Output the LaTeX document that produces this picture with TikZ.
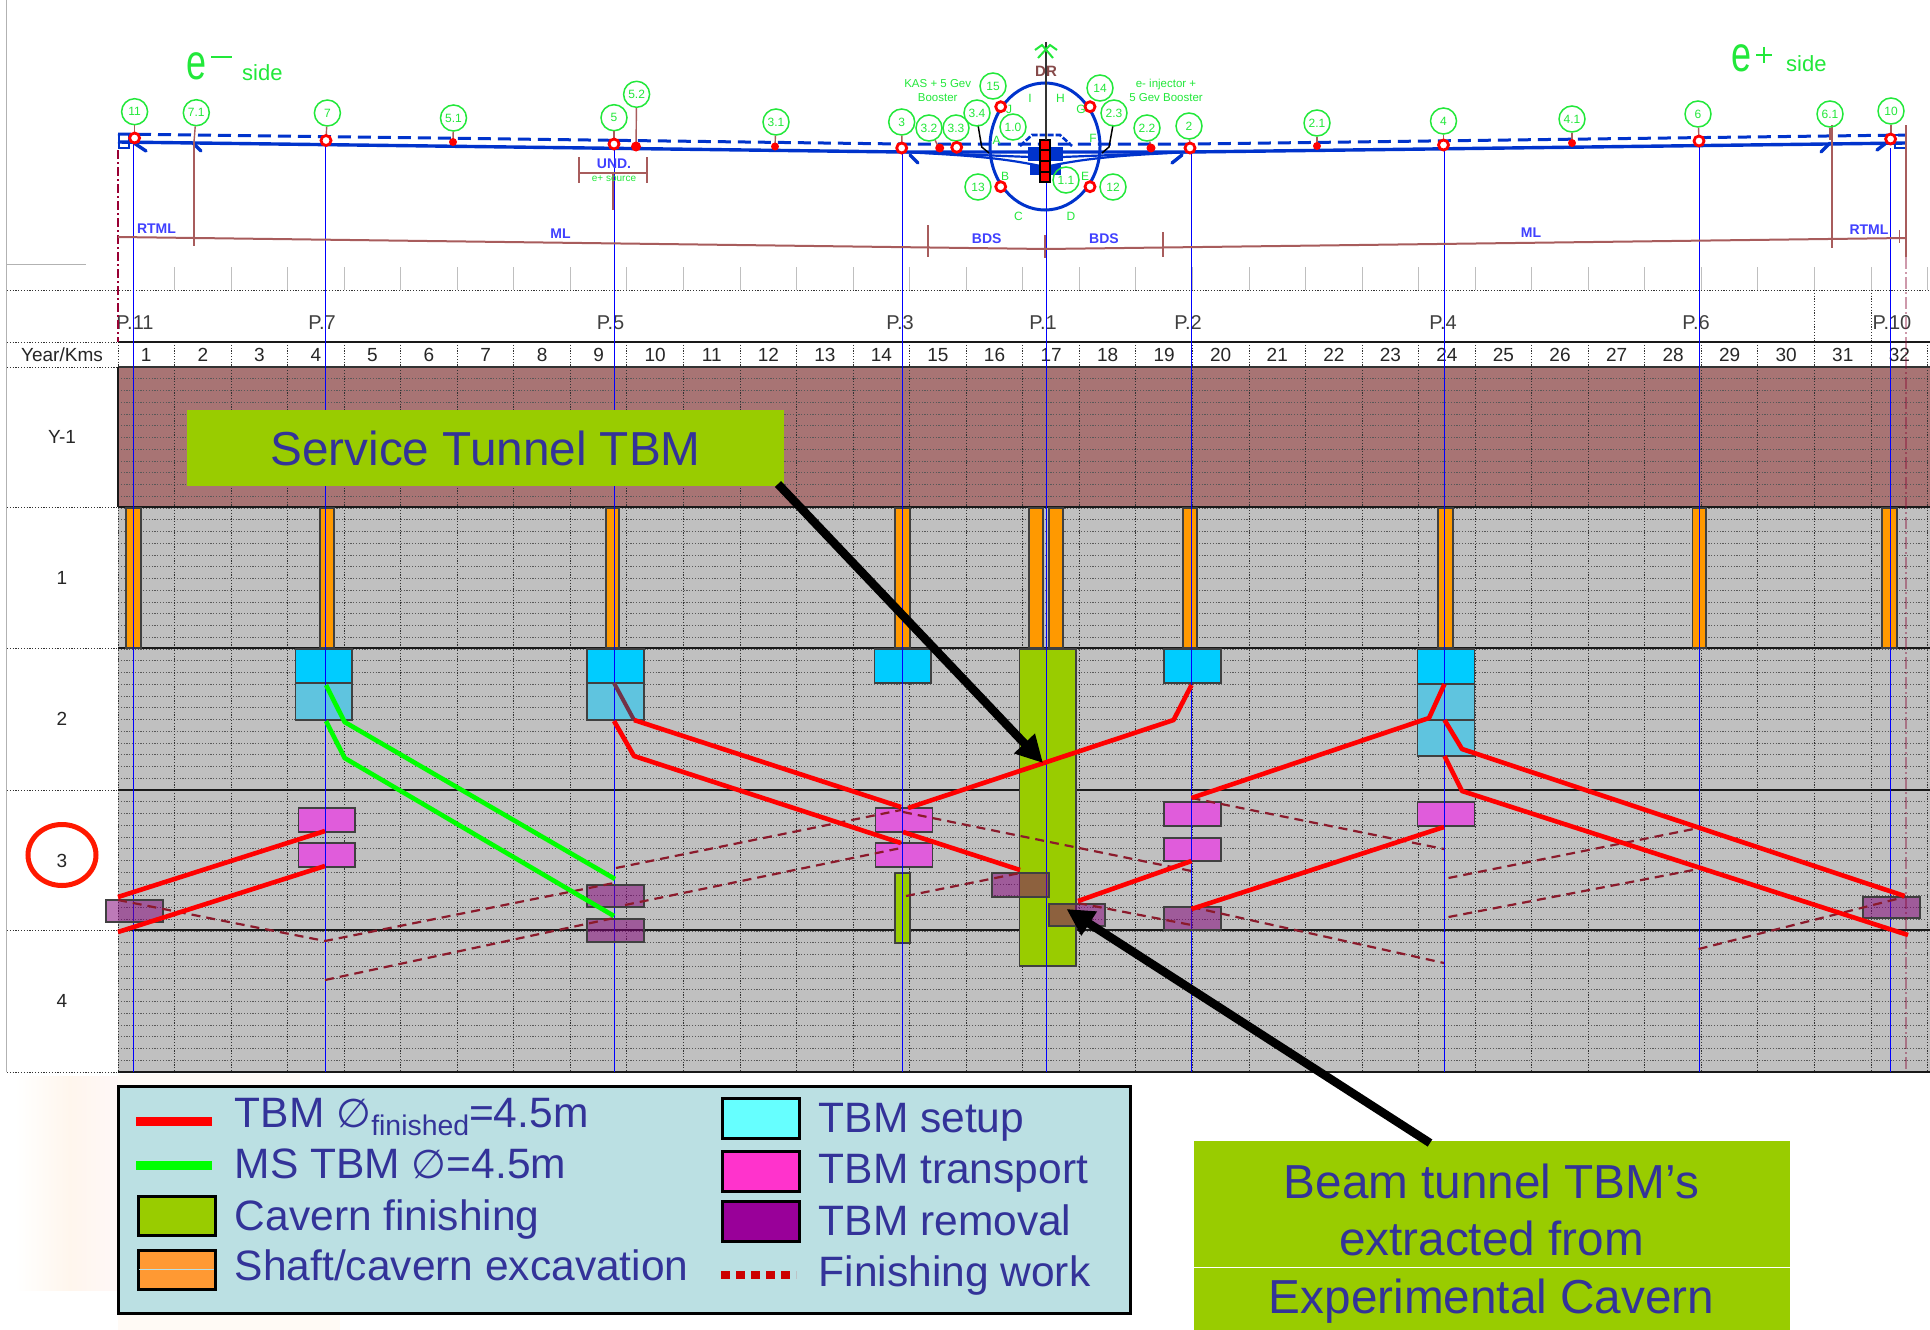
\documentclass[tikz,border=0pt]{standalone}
\usepackage{fontspec}
\setmainfont{Liberation Sans}
\newfontfamily\symfont{DejaVu Sans}
\usetikzlibrary{arrows.meta}
\definecolor{gridgray}{HTML}{C0C0C0}
\definecolor{bandbrown}{HTML}{A87474}
\definecolor{txtblue}{HTML}{333399}
\definecolor{limeg}{HTML}{99CC00}
\definecolor{orangeb}{HTML}{FF9900}
\definecolor{cyana}{HTML}{00CCFF}
\definecolor{cyanb}{HTML}{5FC4DF}
\definecolor{pinkb}{HTML}{E05CDB}
\definecolor{purpb}{RGB}{130,0,120}
\definecolor{beamblue}{HTML}{0033CC}
\definecolor{labgreen}{HTML}{22E83A}
\definecolor{dimred}{HTML}{A85C5C}
\definecolor{finish}{HTML}{8B1A2B}
\definecolor{legbg}{HTML}{BBE0E3}
\definecolor{legcyan}{HTML}{66FFFF}
\definecolor{legorange}{HTML}{FF9933}
\definecolor{legpink}{HTML}{FF33CC}
\definecolor{legpurple}{HTML}{990099}
\definecolor{legred}{HTML}{CC0000}
\newcommand{\fs}[1]{\fontsize{#1}{#1}\selectfont}
\tikzset{
  dotline/.style={draw=black!80,line width=1pt,dash pattern=on 1.2pt off 1.6pt},
  dotlinelight/.style={draw=black!65,line width=1pt,dash pattern=on 1.2pt off 1.6pt},
  rowline/.style={draw=black!90,line width=2.6pt},
  boxline/.style={draw=black!75,line width=1.5pt},
  shaftbar/.style={boxline,fill=orangeb},
  setupa/.style={boxline,fill=cyana},
  setupb/.style={boxline,fill=cyanb},
  transp/.style={boxline,fill=pinkb},
  remov/.style={boxline,fill=purpb,fill opacity=.52},
  cavern/.style={boxline,fill=limeg},
  redline/.style={draw=red,line width=4.6pt,line join=round},
  msline/.style={draw=green,line width=4.6pt,line join=round},
  finline/.style={draw=finish,line width=2.2pt,dash pattern=on 9pt off 6pt},
  shaftaxis/.style={draw=blue,line width=1pt},
  pitlabel/.style={font=\fs{20},text=black!75,inner sep=0pt},
  collabel/.style={font=\fs{19},text=black!85,inner sep=0pt},
  circlab/.style={circle,draw=labgreen,line width=1.5pt,minimum size=26pt,inner sep=0pt,font=\fs{12},text=labgreen},
  stemline/.style={draw=dimred,line width=1.4pt},
  ringmark/.style={draw=red,fill=white,line width=2.8pt},
  dotmark/.style={fill=red},
  beamline/.style={draw=beamblue,line width=3.4pt},
  beamdash/.style={draw=beamblue,line width=3pt,dash pattern=on 13pt off 7pt},
  beamthin/.style={draw=beamblue,line width=2.2pt},
  sitelabel/.style={font=\fs{14}\bfseries,text=blue!75!white,inner sep=0pt},
  greenletter/.style={font=\fs{12},text=labgreen,inner sep=0pt},
  callout/.style={fill=limeg,inner sep=0pt,text=txtblue,font=\fs{47.7}},
  calltext/.style={text=txtblue,font=\fs{47.7},inner sep=0pt,anchor=base},
  bigarrow/.style={draw=black,line width=8.5pt,-{Triangle[length=27pt,width=27pt]},shorten >=0pt},
  legtext/.style={text=txtblue,font=\fs{42.5},inner sep=0pt,anchor=base west},
  legbox/.style={draw=black,line width=3pt},
}
\begin{document}
\begin{tikzpicture}[x=1pt,y=-1pt]
\useasboundingbox (0,0) rectangle (1930,1330);
\fill[white] (0,0) rectangle (1930,1330);

% faint background remains
\shade[left color=white,right color=orange!7] (15,1076) rectangle (70,1290);
\shade[left color=orange!7,right color=red!3] (70,1076) rectangle (118,1290);
\fill[orange!4] (118,1314) rectangle (340,1330);
\fill[orange!3] (118,1074) rectangle (300,1086);

% frame of the top part
\draw[black!30,line width=1pt] (6.5,0) -- (6.5,1072);
\draw[black!30,line width=1pt] (6,264) -- (86,264);
\draw[dotline] (7,290) -- (1930,290);
\foreach \k in {1,...,32} \draw[black!25,line width=1pt] ({118+56.55*\k},267) -- ({118+56.55*\k},290);
\foreach \k in {30,31} \draw[dotline] ({118+56.55*\k},290) -- ({118+56.55*\k},342);

% chart background
\fill[gridgray] (118,507) rectangle (1930,1072);
\fill[bandbrown] (118,367) rectangle (1930,507);
\foreach \k in {0,...,60} \draw[dotlinelight] (118,{367+11.75*\k}) -- (1930,{367+11.75*\k});
\foreach \k in {0,...,32} \draw[dotline] ({118+56.55*\k},342) -- ({118+56.55*\k},1072);
\foreach \yy in {367,507,648,790,930,1072} \draw[dotline] (7,\yy) -- (118,\yy);
\draw[dotline] (7,342) -- (118,342);
\draw[black!90,line width=1.6pt] (118,342) -- (1930,342);
\draw[black!80,line width=1.6pt] (118,367) -- (1930,367);
\draw[black!90,line width=2pt] (118,367) -- (118,507);
\foreach \yy in {507,648,790,930,1072} \draw[rowline] (118,\yy) -- (1930,\yy);

% header labels
\node[collabel] (yearkms) at (62,355) {Year/Kms};
\foreach \k in {1,...,32} \node[collabel] (km\k) at ({118+56.55*(\k-0.5)},355) {\k};
\node[collabel] (ym) at (62,437) {Y-1};
\node[collabel] (y1) at (62,578) {1};
\node[collabel] (y2) at (62,719) {2};
\node[collabel] (y3) at (62,861) {3};
\node[collabel] (y4) at (62,1001) {4};
\foreach \n/\t/\xx in {p11/P.11/135,p7/P.7/322,p5/P.5/610.6,p3/P.3/900,p1/P.1/1043,p2/P.2/1188,p4/P.4/1443,p6/P.6/1696,p10/P.10/1892}
  \node[pitlabel] (\n) at (\xx,323) {\t};

% shafts
\foreach \xa/\xb in {126/141,320/334,606/619,895/910,1029/1043,1049/1063,1183/1197,1438/1453,1692.5/1706,1882/1897}
  \draw[shaftbar] (\xa,508) rectangle (\xb,648);

% cavern finishing
\draw[cavern] (1019.6,649) rectangle (1076,966);
\draw[cavern] (895,873) rectangle (910,943);

% TBM setup
\draw[setupa] (295.5,649) rectangle (352,683);
\draw[setupb] (295.5,683) rectangle (352,720);
\draw[setupa] (587,649) rectangle (644,683);
\draw[setupb] (587,683) rectangle (644,720);
\draw[setupa] (874.5,649) rectangle (931,683);
\draw[setupa] (1164,649) rectangle (1221,683);
\draw[setupa] (1417.6,649) rectangle (1474.3,684);
\draw[setupb] (1417.6,684) rectangle (1474.3,720);
\draw[setupb] (1417.6,720) rectangle (1474.3,756);

% TBM transport
\draw[transp] (298.7,808) rectangle (355,832);
\draw[transp] (298.7,843) rectangle (355,867);
\draw[transp] (875.5,808) rectangle (932.6,832);
\draw[transp] (875.5,843) rectangle (932.6,867);
\draw[transp] (1164,802) rectangle (1221,826);
\draw[transp] (1164,838) rectangle (1221,861);
\draw[transp] (1417.6,802) rectangle (1474.3,826);

% machine axes
\draw[shaftaxis] (133.5,143) -- (133.5,1072);
\draw[shaftaxis] (325.5,145) -- (325.5,1072);
\draw[shaftaxis] (614,150) -- (614,1072);
\draw[shaftaxis] (902.7,152) -- (902.7,1072);
\draw[shaftaxis] (1046,182) -- (1046,1072);
\draw[shaftaxis] (1191,150) -- (1191,1072);
\draw[shaftaxis] (1444.7,150) -- (1444.7,1072);
\draw[shaftaxis] (1699,145) -- (1699,1072);
\draw[shaftaxis] (1890.4,148) -- (1890.4,1072);

% TBM removal
\draw[remov] (106,900) rectangle (163,922);
\draw[remov] (587,885) rectangle (644,907);
\draw[remov] (587,919) rectangle (644,942);
\draw[remov] (992,873) rectangle (1049,897);
\draw[remov] (1049,904) rectangle (1105,926);
\draw[remov] (1164,907) rectangle (1221,930);
\draw[remov] (1863,897) rectangle (1920,918);

% end of the machine line
\draw[draw=purple!70!black,opacity=.4,line width=1.8pt,dash pattern=on 12pt off 3pt on 2pt off 3pt] (1905.6,257) -- (1905.6,1072);
\draw[draw=purple!80!black,line width=1.2pt,dash pattern=on 9pt off 3pt on 2pt off 3pt] (118,150) -- (118,342);

% finishing work
\draw[finline] (118,900) -- (325,941) -- (614,883);
\draw[finline] (325,980) -- (614,918);
\draw[finline] (616,868) -- (901,810);
\draw[finline] (625,905) -- (901,848);
\draw[finline] (903,812) -- (1191.5,871);
\draw[finline] (906,896) -- (1020,873);
\draw[finline] (1078,903) -- (1191.5,925);
\draw[finline] (1191.5,907) -- (1444,963);
\draw[finline] (1191.5,798) -- (1444,849);
\draw[finline] (1448.5,878) -- (1698.6,828);
\draw[finline] (1448.5,917) -- (1698.6,869);
\draw[finline] (1698.6,949) -- (1904.6,897);

% main tunnel lines
\draw[msline] (326,685) -- (344.6,722) -- (615,879);
\draw[msline] (326,721) -- (344.6,758) -- (614,916);
\draw[redline] (118,897) -- (325,831);
\draw[redline] (118,932) -- (325,866);
\draw[draw=black!45!purple!60!gray,line width=4pt] (614,683) -- (634,720);
\draw[redline] (634,720) -- (901,807);
\draw[redline] (614,721) -- (634,756) -- (901,843);
\draw[redline] (908,808) -- (1173.6,720) -- (1191.5,685);
\draw[redline] (903,832) -- (1020,870);
\draw[redline] (1191.5,861) -- (1078,901);
\draw[redline] (1191.5,909) -- (1444,827);
\draw[redline] (1191.5,798) -- (1429,718) -- (1444.5,684);
\draw[redline] (1444.5,720) -- (1462,749) -- (1904.6,896);
\draw[redline] (1444.5,756) -- (1462,791) -- (1908,935);

% ---- top schematic ----
\draw[beamline] (118,142) -- (902,152) -- (1190,152) -- (1906,143);
\draw[beamdash] (118,134) -- (902,144) -- (1190,144) -- (1906,135);
\draw[beamthin] (903,152) .. controls (960,155) and (1000,157) .. (1045,167);
\draw[beamthin] (1190,152) .. controls (1130,155) and (1090,157) .. (1045,167);
\draw[beamthin] (903,152) -- (1030,157);
\draw[beamthin] (1190,152) -- (1062,157);
\draw[beamblue,line width=3pt] (1045,146.5) ellipse [x radius=55,y radius=63.5];
\draw[beamthin,line width=2.6pt,dash pattern=on 6pt off 2pt] (1020,146) -- (1032,135) -- (1060,135) -- (1072,146);
\fill[beamblue] (1028,147) rectangle (1063,161);
\fill[beamblue] (1030,165) rectangle (1061,175);
\draw[black,line width=2pt,fill=red] (1040,140) rectangle (1050,182);
\draw[black,line width=1.2pt] (1040,150) -- (1050,150) (1040,161) -- (1050,161) (1040,172) -- (1050,172);
\draw[black!80,line width=2pt] (1046,42) -- (1046,140);
\draw[labgreen,line width=2pt] (1035,50) -- (1042,45) -- (1053,58);
\draw[labgreen,line width=2pt] (1057,50) -- (1050,45) -- (1038,58);
\node[font=\fs{15}\bfseries,text=dimred!80!black,inner sep=0pt] (dr) at (1046,71) {DR};
% hooks
\foreach \xa/\ya/\xb/\yb in {134/143/146/151,193/143/201/151,910/155/918/163,1182/155/1172/163,1830/143/1821/152,1886/143/1877/150}
  \draw[beamline,line cap=round] (\xa,\ya) -- (\xb,\yb);
\draw[beamblue,line width=2.5pt] (119,134) rectangle (129,148);
\draw[beamblue,line width=2.5pt] (1895,135) rectangle (1906,148);
\draw[black,line width=1.5pt] (978,125) -- (981.7,147) -- (989,153);
\draw[black,line width=1.5pt] (1113,125) -- (1109,147) -- (1102,153);

% lower dimension line
\draw[dimred,line width=2pt] (118,237) -- (1046,249) -- (1906,238);
\draw[dimred,line width=1.5pt] (193.8,142) -- (193.8,246);
\draw[dimred,line width=1.5pt] (1832,125) -- (1832,248);
\draw[dimred,line width=1.5pt] (1906,125) -- (1906,257);
\draw[dimred,line width=2pt] (927.7,225) -- (927.7,257);
\draw[dimred,line width=2pt] (1045,235) -- (1045,258);
\draw[dimred,line width=2pt] (1163,232) -- (1163,257);
\draw[dimred,line width=1.5pt] (1899.5,230) -- (1899.5,243);
\draw[dimred,line width=1.3pt] (579,157) -- (579,183);
\draw[dimred,line width=1.3pt] (647,157) -- (647,183);
\draw[dimred,line width=1.3pt] (579,173) -- (647,173);
\draw[dimred,line width=1.3pt] (613,173) -- (613,210);
\node[sitelabel] (und) at (614,164) {UND.};
\node[font=\fs{10},text=labgreen,inner sep=0pt] (esrc) at (614,179) {e+ source};
\node[sitelabel] (rtmla) at (156.5,229) {RTML};
\node[sitelabel] (mla) at (560.6,234) {ML};
\node[sitelabel] (bdsa) at (986.7,239) {BDS};
\node[sitelabel] (bdsb) at (1104,239) {BDS};
\node[sitelabel] (mlb) at (1531,233) {ML};
\node[sitelabel] (rtmlb) at (1869,230) {RTML};

% numbered access points
\foreach \n/\t/\cx/\cy/\dx/\dy in {
 a11/11/134.6/111.7/134.6/138, a71/7.1/196.3/112.7/194/142, a7/7/327.4/113/326/140,
 a51/5.1/453.5/118/453/142, a5/5/614/117.7/614/144, a52/5.2/636.6/94.3/636/146,
 a31/3.1/776/122/775/146, a3/3/901.7/122/902/148, a32/3.2/929/128/939/148,
 a33/3.3/956/128/956/147, a22/2.2/1147/128/1151/148, a2/2/1189/126/1190/148,
 a21/2.1/1317/123/1317/146, a4/4/1443.5/121/1443.5/145, a41/4.1/1572/119/1572/143,
 a6/6/1698/114/1699/141, a61/6.1/1830/114/1830/140, a10/10/1891/111/1891/139}
{
  \node[circlab] (\n) at (\cx,\cy) {\t};
  \coordinate (\n pt) at (\dx,\dy);
  \draw[stemline] (\n) -- (\n pt);
}
\foreach \n/\t/\cx/\cy in {a34/3.4/977/113,a15/15/993/86,a10c/1.0/1013/127,a14/14/1100/88,a23/2.3/1114/113,a13/13/978/187,a11c/1.1/1066/180,a12/12/1113/187}
  \node[circlab] (\n) at (\cx,\cy) {\t};

\foreach \xx/\yy in {134.6/138,326/140.5,614/144,901.7/148,1190/148,1443.5/145,1699/141,1890.6/139,1000.7/106.7,1090/106.7,1000.7/186.7,1090/186.7,956.7/147.3}
  \draw[ringmark] (\xx,\yy) circle [radius=5];
\foreach \xx/\yy/\rr in {453/142/4,636/146.5/5,775/146.5/4,939.7/148/4.5,1151/148/4.5,1317/146/4,1572/143/4}
  \fill[dotmark] (\xx,\yy) circle [radius=\rr];

% small site letters
\foreach \n/\t/\xx/\yy in {li/I/1030/98,lh/H/1060.5/98,lj/J/1009/109,lg/G/1081/109,la/A/996.5/140,lf/F/1093/138,lb/B/1005/176,le/E/1085/176,lc/C/1018.5/216,ld/D/1071/216}
  \node[greenletter] (\n) at (\xx,\yy) {\t};
\node[font=\fs{11.5},text=labgreen,inner sep=0pt,align=center] (kas) at (937.7,91) {KAS + 5 Gev\\[2.5pt]Booster};
\node[font=\fs{11.5},text=labgreen,inner sep=0pt,align=center] (einj) at (1166,90) {e- injector +\\[2.5pt]5 Gev Booster};

% e- / e+ side labels
\node[text=labgreen,font=\fs{50},inner sep=0pt,anchor=base,xscale=.72] (em) at (197,80) {e};
\draw[labgreen,line width=2pt] (211,57) -- (232,57);
\node[text=labgreen,font=\fs{22},inner sep=0pt,anchor=base west] (eside) at (242,81) {side};
\node[text=labgreen,font=\fs{50},inner sep=0pt,anchor=base,xscale=.72] (ep) at (1741,71) {e};
\draw[labgreen,line width=2pt] (1756,55) -- (1772,55) (1764,47) -- (1764,63);
\node[text=labgreen,font=\fs{22},inner sep=0pt,anchor=base west] (pside) at (1786,72) {side};

% circle around the current year
\draw[draw=red!80!orange,line width=5pt] (62,855) ellipse [x radius=34,y radius=30.5];

% callouts
\node[callout,minimum width=597pt,minimum height=76pt] (svc) at (485.5,448) {Service Tunnel TBM};
\fill[limeg] (1193.5,1141) rectangle (1790,1330);
\draw[white,line width=1pt] (1193.5,1267) -- (1790,1267);
\node[calltext] (bta) at (1491.5,1198) {Beam tunnel TBM’s};
\node[calltext] (btb) at (1491.5,1255) {extracted from};
\node[calltext] (btc) at (1491.5,1313) {Experimental Cavern};
\coordinate (svctail) at (778,484);
\coordinate (svctip) at (1043,763);
\coordinate (beamtail) at (1430,1143);
\coordinate (beamtip) at (1066.5,909);
\draw[bigarrow] (svctail) -- (svctip);
\draw[bigarrow] (beamtail) -- (beamtip);

% legend
\draw[draw=black,fill=legbg,line width=3pt] (118,1086) rectangle (1130,1313);
\fill[red] (136,1117) rectangle (212,1126);
\fill[green] (136,1161) rectangle (212,1170);
\draw[legbox,fill=limeg] (138,1196) rectangle (215,1235);
\draw[legbox,fill=legorange] (138,1250) rectangle (215,1289);
\draw[legbg,line width=1pt] (139,1269.5) -- (214,1269.5);
\draw[legbox,fill=legcyan] (722,1098) rectangle (799,1138);
\draw[legbox,fill=legpink] (722,1151) rectangle (799,1191);
\draw[legbox,fill=legpurple] (722,1201) rectangle (799,1241);
\draw[draw=legred,line width=8pt,dash pattern=on 9pt off 6pt] (721,1275) -- (796,1275);
\node[legtext] (l1) at (234.7,1127) {TBM {\symfont\fs{40}∅}\raisebox{-8pt}{\fs{28.4}finished}=4.5m};
\node[legtext] (l2) at (234.7,1178) {MS TBM {\symfont\fs{40}∅}=4.5m};
\node[legtext] (l3) at (234.7,1230) {Cavern finishing};
\node[legtext] (l4) at (234.7,1280) {Shaft/cavern excavation};
\node[legtext] (r1) at (818.6,1132) {TBM setup};
\node[legtext] (r2) at (818.6,1183) {TBM transport};
\node[legtext] (r3) at (818.6,1235) {TBM removal};
\node[legtext] (r4) at (818.6,1286) {Finishing work};
\end{tikzpicture}
\end{document}
